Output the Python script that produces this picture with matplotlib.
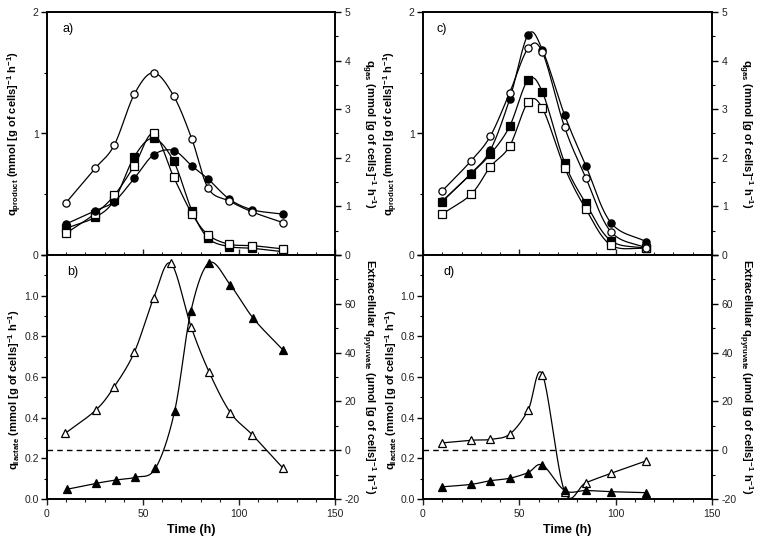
import numpy as np
import matplotlib
matplotlib.use("Agg")
import matplotlib.pyplot as plt
from matplotlib.ticker import MultipleLocator

plt.rcParams['font.family'] = ['Liberation Sans', 'DejaVu Sans']
plt.rcParams['mathtext.fontset'] = 'custom'
plt.rcParams['mathtext.rm'] = 'Liberation Sans'
plt.rcParams['mathtext.bf'] = 'Liberation Sans:bold'
plt.rcParams['mathtext.default'] = 'bf'
plt.rcParams['axes.unicode_minus'] = False

# ---- panel a ----
t_a = [10, 25, 35, 45.5, 55.5, 66, 75.5, 84, 95, 107, 123]
a_open_circ = [1.08, 1.78, 2.26, 3.31, 3.75, 3.27, 2.38, 1.37, 1.11, 0.885, 0.665]   # q_gas
a_fill_circ = [0.64, 0.91, 1.10, 1.58, 2.06, 2.15, 1.83, 1.56, 1.15, 0.93, 0.84]     # q_gas
a_fill_sq = [0.22, 0.31, 0.45, 0.81, 0.96, 0.77, 0.365, 0.137, 0.069, 0.055, 0.027]  # q_product
a_open_sq = [0.18, 0.34, 0.49, 0.735, 1.0, 0.64, 0.34, 0.165, 0.088, 0.077, 0.05]    # q_product

# ---- panel b ----
t_b_lac = [9.5, 25.5, 35, 45.5, 55.5, 64.5, 75, 84.5, 95.5, 107, 123]
b_lactate = [0.323, 0.438, 0.552, 0.722, 0.987, 1.159, 0.848, 0.623, 0.425, 0.315, 0.151]
t_b_pyr = [10.5, 25.5, 36, 46, 56.5, 66.5, 75, 84.5, 95.5, 107.5, 123]
b_pyruvate = [-16, -13.6, -12.2, -11.1, -7.4, 16.1, 57.2, 76.8, 67.7, 54, 41]

# ---- panel c ----
t_c = [10, 25, 35, 45, 54.5, 62, 73.5, 84.5, 97.5, 116]
c_open_circ = [1.32, 1.94, 2.45, 3.34, 4.25, 4.17, 2.63, 1.59, 0.48, 0.14]
c_fill_circ = [1.11, 1.68, 2.16, 3.21, 4.53, 4.22, 2.88, 1.84, 0.665, 0.27]
c_fill_sq = [0.44, 0.67, 0.83, 1.06, 1.44, 1.34, 0.76, 0.425, 0.118, 0.055]
c_open_sq = [0.337, 0.50, 0.727, 0.897, 1.257, 1.207, 0.719, 0.379, 0.082, 0.055]

# ---- panel d ----
t_d = [10, 25, 35, 45, 54.5, 62, 73.5, 84.5, 97.5, 116]
d_lactate = [0.276, 0.289, 0.293, 0.319, 0.436, 0.612, 0.036, 0.08, 0.126, 0.188]
d_pyruvate = [-15, -14, -12.5, -11.5, -9.2, -6.1, -16.5, -16.5, -17, -17.4]

ylab_prod = r'q$_{\mathregular{product}}$ (mmol [g of cells]$^{\mathbf{-1}}$ h$^{\mathbf{-1}}$)'
ylab_gas = r'q$_{\mathregular{gas}}$ (mmol [g of cells]$^{\mathbf{-1}}$ h$^{\mathbf{-1}}$)'
ylab_lac = r'q$_{\mathregular{lactate}}$ (mmol [g of cells]$^{\mathbf{-1}}$ h$^{\mathbf{-1}}$)'
ylab_pyr = r'Extracellular q$_{\mathregular{pyruvate}}$ ($\mathregular{\mu}$mol [g of cells]$^{\mathbf{-1}}$ h$^{\mathbf{-1}}$)'


def smooth(x, y, n=24):
    # uniform Catmull-Rom curve through the points (drawing only)
    pts = np.column_stack([x, y]).astype(float)
    p = np.vstack([2 * pts[0] - pts[1], pts, 2 * pts[-1] - pts[-2]])
    t = np.linspace(0, 1, n, endpoint=False)[:, None]
    out = []
    for i in range(1, len(p) - 2):
        p0, p1, p2, p3 = p[i - 1], p[i], p[i + 1], p[i + 2]
        seg = 0.5 * (2 * p1 + (p2 - p0) * t + (2 * p0 - 5 * p1 + 4 * p2 - p3) * t ** 2
                     + (-p0 + 3 * p1 - 3 * p2 + p3) * t ** 3)
        out.append(seg)
    out.append(pts[-1:])
    c = np.vstack(out)
    return c[:, 0], c[:, 1]


def series(ax, x, y, marker, filled, ms=5.2):
    sx, sy = smooth(x, y)
    ax.plot(sx, sy, color='black', lw=0.9, zorder=2)
    ax.plot(x, y, linestyle='none', marker=marker, ms=ms,
            mfc='black' if filled else 'white', mec='black', mew=0.9, zorder=3)


def style(ax, ax2, top):
    for a in (ax, ax2):
        for s in a.spines.values():
            s.set_linewidth(1.2)
    ax.set_xlim(0, 150)
    ax.xaxis.set_major_locator(MultipleLocator(50))
    ax.xaxis.set_minor_locator(MultipleLocator(10))
    ax.tick_params(axis='x', which='both', direction='in' if top else 'out',
                   labelbottom=not top, labelsize=7.5, colors='#222222')
    ax.tick_params(axis='x', which='major', length=4, width=1)
    ax.tick_params(axis='x', which='minor', length=2.5, width=0.8)
    ax.tick_params(axis='y', which='major', length=4, width=1, labelsize=7.5,
                   direction='out', labelcolor='#222222', pad=2)
    ax.tick_params(axis='y', which='minor', length=2.5, width=0.8, direction='out')
    ax2.tick_params(axis='y', which='major', length=4, width=1, labelsize=7.5,
                    direction='out', labelcolor='#222222', pad=3)
    ax2.tick_params(axis='y', which='minor', length=2.5, width=0.8, direction='out')
    if top:
        ax.set_ylim(0, 2)
        ax.set_yticks([0, 1, 2])
        ax.yaxis.set_minor_locator(MultipleLocator(0.5))
        ax2.set_ylim(0, 5)
        ax2.set_yticks([0, 1, 2, 3, 4, 5])
        ax2.yaxis.set_minor_locator(MultipleLocator(0.5))
    else:
        ax.set_ylim(0, 1.2)
        ax.set_yticks([0, 0.2, 0.4, 0.6, 0.8, 1.0, 1.2])
        ax.set_yticklabels(['0.0', '0.2', '0.4', '0.6', '0.8', '1.0', ''])
        ax.yaxis.set_minor_locator(MultipleLocator(0.1))
        ax2.set_ylim(-20, 80)
        ax2.set_yticks([-20, 0, 20, 40, 60, 80])
        ax2.set_yticklabels(['-20', '0', '20', '40', '60', ''])
        ax2.yaxis.set_minor_locator(MultipleLocator(10))
        ax.set_xlabel('Time (h)', fontsize=9, fontweight='bold', labelpad=3)


def labels(ax, ax2, left_text, right_text, lx, rx, ly=0.5):
    kw = dict(fontsize=8, fontweight='bold')
    ax.set_ylabel(left_text, rotation=90, **kw)
    ax2.set_ylabel(right_text, rotation=270, **kw)
    ax.yaxis.set_label_coords(lx, ly)
    ax2.yaxis.set_label_coords(rx, 0.5)
    for lab in (ax.yaxis.label, ax2.yaxis.label):
        lab.set_ha('center')
        lab.set_va('center')


fig = plt.figure(figsize=(7.62, 5.39), dpi=100)
W, H = 762.0, 539.0
lefts = [(47, 288), (423, 289)]
rows = [(12, 255), (255, 499)]

axes = {}
for ci, (lx, wx) in enumerate(lefts):
    for ri, (ty, by) in enumerate(rows):
        ax = fig.add_axes([lx / W, 1 - by / H, wx / W, (by - ty) / H])
        ax2 = ax.twinx()
        axes[(ci, ri)] = (ax, ax2)
        style(ax, ax2, ri == 0)

# panel a
ax, ax2 = axes[(0, 0)]
series(ax2, t_a, a_fill_circ, 'o', True)
series(ax2, t_a, a_open_circ, 'o', False)
series(ax, t_a, a_fill_sq, 's', True)
series(ax, t_a, a_open_sq, 's', False)
ax.text(0.055, 0.93, 'a)', transform=ax.transAxes, fontsize=9, va='center')
labels(ax, ax2, ylab_prod, ylab_gas, -0.113, 1.115)

# panel b
ax, ax2 = axes[(0, 1)]
ax2.axhline(0, color='black', lw=1, ls=(0, (4, 3)), zorder=1)
series(ax, t_b_lac, b_lactate, '^', False, ms=6)
series(ax2, t_b_pyr, b_pyruvate, '^', True, ms=6)
ax.text(0.07, 0.93, 'b)', transform=ax.transAxes, fontsize=9, va='center')
labels(ax, ax2, ylab_lac, ylab_pyr, -0.113, 1.115, ly=0.45)

# panel c
ax, ax2 = axes[(1, 0)]
series(ax2, t_c, c_fill_circ, 'o', True)
series(ax2, t_c, c_open_circ, 'o', False)
series(ax, t_c, c_fill_sq, 's', True)
series(ax, t_c, c_open_sq, 's', False)
ax.text(0.045, 0.93, 'c)', transform=ax.transAxes, fontsize=9, va='center')
labels(ax, ax2, ylab_prod, ylab_gas, -0.11, 1.115)

# panel d
ax, ax2 = axes[(1, 1)]
ax2.axhline(0, color='black', lw=1, ls=(0, (4, 3)), zorder=1)
series(ax, t_d, d_lactate, '^', False, ms=6)
series(ax2, t_d, d_pyruvate, '^', True, ms=6)
ax.text(0.07, 0.93, 'd)', transform=ax.transAxes, fontsize=9, va='center')
labels(ax, ax2, ylab_lac, ylab_pyr, -0.11, 1.115, ly=0.45)

fig.savefig('out.png', dpi=100)
